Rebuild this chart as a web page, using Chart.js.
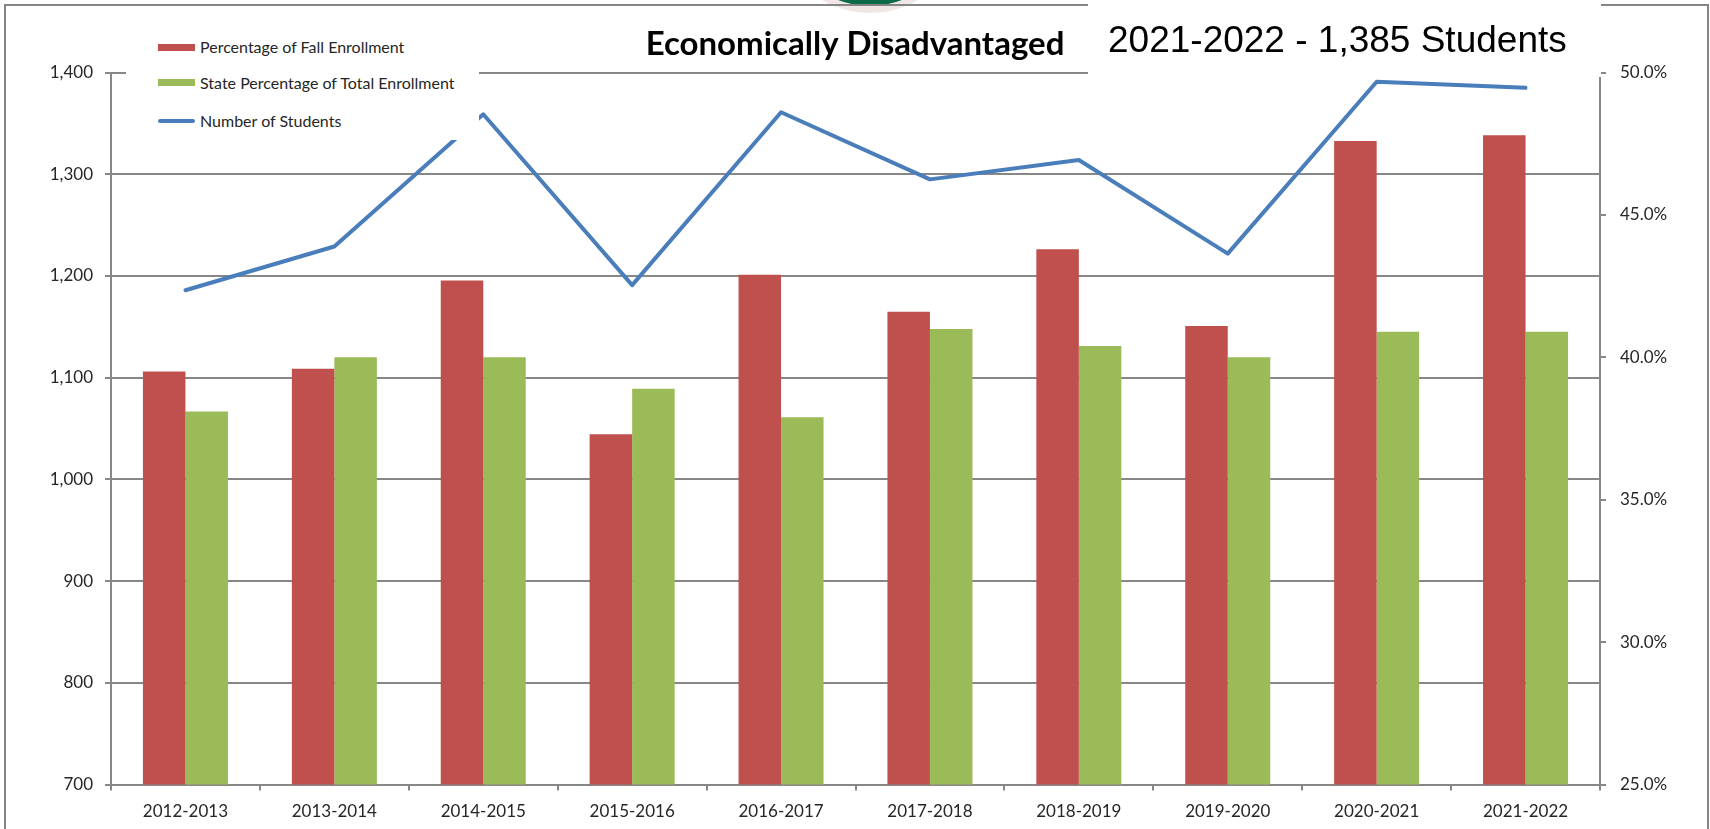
<!DOCTYPE html>
<html>
<head>
<meta charset="utf-8">
<title>Economically Disadvantaged</title>
<script src="https://cdn.jsdelivr.net/npm/chart.js@4.4.1/dist/chart.umd.min.js"></script>
<style>
  html, body { margin: 0; padding: 0; background: #fff; }
  #wrap { position: relative; width: 1710px; height: 829px; overflow: hidden; background: #fff; }
  #chart { position: absolute; left: 0; top: 0; }
  #logo { position: absolute; left: 782px; top: -170px; width: 176px; height: 176px; border-radius: 50%;
          background: #0c6a48; box-shadow: 0 0 0 7px #f0e6e6; }
  #frame { position: absolute; left: 4px; top: 4px; width: 1701px; height: 900px;
           border: 2px solid #858585; border-bottom: none; }
  #legend { position: absolute; left: 126px; top: 22px; width: 353px; height: 118px; background: #fff;
            font-family: Lato, sans-serif; font-size: 16px; color: #262626; }
  #legend .item { position: absolute; left: 0; height: 20px; width: 353px; }
  #legend .sw { position: absolute; left: 32px; width: 37px; }
  #legend .txt { position: absolute; left: 74px; top: 0; line-height: 20px; white-space: nowrap; }
  #sub { position: absolute; left: 1088px; top: 0; width: 513px; height: 77px; background: #fff;
         font-family: "Liberation Sans", Arial, sans-serif; font-size: 37px; color: #000;
         line-height: 75px; white-space: nowrap; }
  #sub span { position: absolute; left: 20px; top: 2px; }
</style>
</head>
<body>
<div id="wrap">
  <canvas id="chart" width="1710" height="829"></canvas>
  <div id="logo"></div>
  <div id="frame"></div>
  <div id="legend"></div>
  <div id="sub"><span id="subText"></span></div>
</div>
<script>
// School years on the category axis
const seasons = ['2012-2013', '2013-2014', '2014-2015', '2015-2016', '2016-2017',
                 '2017-2018', '2018-2019', '2019-2020', '2020-2021', '2021-2022'];

// Percent of fall enrollment that is economically disadvantaged (right axis)
const fallEnrollmentPct = [39.5, 39.6, 42.7, 37.3, 42.9, 41.6, 43.8, 41.1, 47.6, 47.8];
// Statewide percentage of total enrollment (right axis)
const statePct = [38.1, 40.0, 40.0, 38.9, 37.9, 41.0, 40.4, 40.0, 40.9, 40.9];
// Number of economically disadvantaged students (left axis)
const studentCounts = [1186, 1229, 1359, 1191, 1361, 1295, 1314, 1222, 1391, 1385];

// Axis ticks
const studentTicks = [700, 800, 900, 1000, 1100, 1200, 1300, 1400];
const percentTicks = [25, 30, 35, 40, 45, 50];

const seriesNames = ['Percentage of Fall Enrollment', 'State Percentage of Total Enrollment', 'Number of Students'];
const seriesColors = ['#C0504D', '#9BBB59', '#4A7EBB'];

const GRID = '#878787';
const TICK_TEXT = '#262626';
const tickFont = { family: 'Lato', size: 17 };

const chart = new Chart(document.getElementById('chart'), {
  type: 'bar',
  data: {
    labels: seasons,
    datasets: [
      {
        label: seriesNames[0], data: fallEnrollmentPct, yAxisID: 'yR',
        backgroundColor: seriesColors[0], order: 1,
        categoryPercentage: 0.571, barPercentage: 1.0
      },
      {
        label: seriesNames[1], data: statePct, yAxisID: 'yR',
        backgroundColor: seriesColors[1], order: 2,
        categoryPercentage: 0.571, barPercentage: 1.0
      },
      {
        type: 'line', label: seriesNames[2], data: studentCounts, yAxisID: 'yL',
        borderColor: seriesColors[2], borderWidth: 4, pointRadius: 0, tension: 0,
        borderCapStyle: 'round', borderJoinStyle: 'round', fill: false, order: 0
      }
    ]
  },
  options: {
    responsive: false,
    animation: false,
    devicePixelRatio: 1,
    events: [],
    layout: { padding: 0 },
    plugins: {
      legend: { display: false },
      tooltip: { enabled: false },
      title: {
        display: true,
        text: 'Economically Disadvantaged',
        color: '#000',
        font: { family: 'Lato', size: 33, weight: 'bold', lineHeight: 1.2 },
        padding: { top: 25, bottom: 8 }
      }
    },
    scales: {
      x: {
        grid: { display: true, drawOnChartArea: false, drawTicks: true, tickLength: 6,
                color: GRID, lineWidth: 2, offset: true },
        border: { display: true, color: GRID, width: 2 },
        ticks: { font: tickFont, color: TICK_TEXT, padding: 11, maxRotation: 0, autoSkip: false },
        afterFit: s => { s.height = 44.5; }
      },
      yL: {
        position: 'left', min: 700, max: 1400,
        afterBuildTicks: s => { s.ticks = studentTicks.map(v => ({ value: v })); },
        grid: { color: GRID, lineWidth: 2, drawTicks: true, tickLength: 6 },
        border: { display: true, color: GRID, width: 2 },
        ticks: { font: tickFont, color: TICK_TEXT, padding: 12,
                 callback: v => Number(v).toLocaleString('en-US') },
        afterFit: s => { s.width = 111; }
      },
      yR: {
        position: 'right', min: 25, max: 50,
        afterBuildTicks: s => { s.ticks = percentTicks.map(v => ({ value: v })); },
        grid: { drawOnChartArea: false, color: GRID, lineWidth: 2, drawTicks: true, tickLength: 6 },
        border: { display: true, color: GRID, width: 2 },
        ticks: { font: tickFont, color: TICK_TEXT, padding: 14,
                 callback: v => Number(v).toFixed(1) + '%' },
        afterFit: s => { s.width = 110; }
      }
    }
  }
});

// Legend panel, stacked vertically in the top-left corner
const legendRows = [25, 60.5, 99];
const legendEl = document.getElementById('legend');
seriesNames.forEach((name, i) => {
  const item = document.createElement('div');
  item.className = 'item';
  item.style.top = (legendRows[i] - 10) + 'px';
  const sw = document.createElement('div');
  sw.className = 'sw';
  const h = i === 2 ? 4 : 7;
  sw.style.height = h + 'px';
  sw.style.top = (10 - h / 2) + 'px';
  sw.style.background = seriesColors[i];
  if (i === 2) sw.style.borderRadius = '2px';
  const txt = document.createElement('div');
  txt.className = 'txt';
  txt.textContent = name;
  item.appendChild(sw);
  item.appendChild(txt);
  legendEl.appendChild(item);
});

// Headline for the latest year
const last = seasons.length - 1;
document.getElementById('subText').textContent =
  seasons[last] + ' - ' + studentCounts[last].toLocaleString('en-US') + ' Students';
</script>
</body>
</html>
